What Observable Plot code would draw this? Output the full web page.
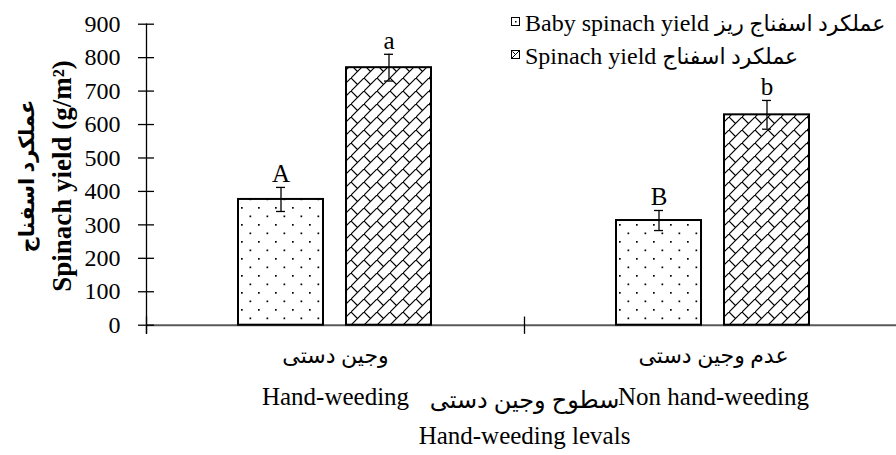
<!DOCTYPE html>
<html><head><meta charset="utf-8">
<script src="https://cdn.jsdelivr.net/npm/d3@7"></script>
<script src="https://cdn.jsdelivr.net/npm/@observablehq/plot@0.6"></script>
<style>
body{margin:0;background:#fff;}
#wrap{position:relative;width:896px;height:455px;overflow:hidden;background:#fff;font-family:"Liberation Serif","Times New Roman","DejaVu Sans",serif;color:#000;}
.leg{position:absolute;font-size:24px;line-height:30px;white-space:nowrap;}
.leg span{font-size:22px;}
.sw{position:absolute;}
.ytitle{position:absolute;white-space:nowrap;font-weight:bold;line-height:30px;transform:translate(-50%,-50%) rotate(-90deg);}
</style></head><body><div id="wrap"></div>
<script>
// ---- data ----
const groups = ["Hand-weeding", "Non hand-weeding"];
const groupsFa = ["وجین دستی", "عدم وجین دستی"];
const series = ["Baby spinach yield", "Spinach yield"];
const seriesFa = ["عملکرد اسفناج ریز", "عملکرد اسفناج"];
const babyYield = [376, 313];
const spinachYield = [770, 629];
const babyErr = [36, 30];
const spinachErr = [40, 43];
const babyLetters = ["A", "B"];
const spinachLetters = ["a", "b"];
const yTicks = [0, 100, 200, 300, 400, 500, 600, 700, 800, 900];
const yTitleEn = "Spinach yield (g/m²)";
const yTitleFa = "عملکرد اسفناج";
const xTitleEn = "Hand-weeding levals";
const xTitleFa = "سطوح وجین دستی";

const data = groups.flatMap((g, i) => [
  {group: g, series: series[0], value: babyYield[i], err: babyErr[i], letter: babyLetters[i]},
  {group: g, series: series[1], value: spinachYield[i], err: spinachErr[i], letter: spinachLetters[i]}
]);
const catLabels = groups.map((g, i) => ({group: g, en: g, fa: groupsFa[i]}));

const font = '"Liberation Serif","Times New Roman","DejaVu Sans",serif';

const chart = Plot.plot({
  width: 896, height: 455,
  marginLeft: 146, marginRight: -6, marginTop: 23.7, marginBottom: 130.3,
  style: {fontFamily: font, fontSize: "24px", color: "black", background: "transparent", overflow: "visible"},
  fx: {domain: groups, padding: 0, axis: null},
  x: {domain: series, paddingInner: 0.21, paddingOuter: 0.852, axis: null},
  y: {domain: [0, 900], axis: null},
  marks: [
    Plot.ruleY([0], {stroke: "#595959", strokeWidth: 2}),
    Plot.barY(data.filter(d => d.series === series[0]), {fx: "group", x: "series", y: "value", fill: "url(#dotPat)", stroke: "black", strokeWidth: 2}),
    Plot.barY(data.filter(d => d.series === series[1]), {fx: "group", x: "series", y: "value", fill: "url(#brickPat)", stroke: "black", strokeWidth: 2}),
    Plot.ruleX(data, {fx: "group", x: "series", y1: d => d.value - d.err, y2: d => d.value + d.err, stroke: "black", strokeWidth: 1.3}),
    Plot.tickY(data, {fx: "group", x: "series", y: d => d.value + d.err, insetLeft: 38, insetRight: 38, stroke: "black", strokeWidth: 1.3}),
    Plot.tickY(data, {fx: "group", x: "series", y: d => d.value - d.err, insetLeft: 38, insetRight: 38, stroke: "black", strokeWidth: 1.3}),
    Plot.text(data, {fx: "group", x: "series", y: d => d.value + d.err, text: "letter", dy: -13, fontSize: 25}),
    Plot.frame({anchor: "left", facetAnchor: "left", insetBottom: -8, stroke: "black", strokeWidth: 1.3}),
    Plot.frame({anchor: "left", insetTop: 293, insetBottom: -8, stroke: "black", strokeWidth: 1.3}),
    Plot.axisY({ticks: yTicks, tickSize: 16, dx: 8, tickPadding: 18, fontSize: 24, label: null, strokeWidth: 1.3}),
    Plot.text(catLabels, {fx: "group", text: "fa", frameAnchor: "bottom", dy: 38, fontSize: 22}),
    Plot.text(catLabels, {fx: "group", text: "en", frameAnchor: "bottom", dy: 80, fontSize: 25}),
    Plot.text([xTitleFa], {facet: "super", frameAnchor: "bottom", dy: 83, fontSize: 24}),
    Plot.text([xTitleEn], {facet: "super", frameAnchor: "bottom", dy: 119, fontSize: 25})
  ]
});

d3.select(chart).insert("defs", ":first-child").html(`
<pattern id="dotPat" patternUnits="userSpaceOnUse" width="17" height="17">
  <rect width="17" height="17" fill="white"/>
  <rect x="3" y="3" width="1.7" height="1.7" fill="black"/>
  <rect x="11.5" y="11.5" width="1.7" height="1.7" fill="black"/>
</pattern>
<pattern id="brickPat" patternUnits="userSpaceOnUse" width="13" height="13">
  <rect width="13" height="13" fill="white"/>
  <path d="M-1,14L14,-1M0,0L6.5,6.5" stroke="black" stroke-width="1.2" fill="none"/>
</pattern>`);

const wrap = document.getElementById("wrap");
wrap.appendChild(chart);

// y titles
[[yTitleEn, 62, 27], [yTitleFa, 27, 21]].forEach(([t, x, fs]) => {
  const div = document.createElement("div");
  div.className = "ytitle";
  div.style.left = x + "px";
  div.style.top = "176px";
  div.style.fontSize = fs + "px";
  div.textContent = t;
  wrap.appendChild(div);
});

// legend
const legTops = [8, 41];
series.forEach((s, i) => {
  const div = document.createElement("div");
  div.className = "leg";
  div.style.left = "525px";
  div.style.top = legTops[i] + "px";
  div.textContent = s + " ";
  const fa = document.createElement("span");
  fa.textContent = seriesFa[i];
  div.appendChild(fa);
  wrap.appendChild(div);
  const sw = document.createElementNS("http://www.w3.org/2000/svg", "svg");
  sw.setAttribute("class", "sw");
  sw.setAttribute("width", 10); sw.setAttribute("height", 10);
  sw.style.left = "511px"; sw.style.top = (legTops[i] + 9) + "px";
  sw.innerHTML = i === 0
    ? '<rect x="0.5" y="0.5" width="8" height="8" fill="white" stroke="black"/><rect x="4" y="4" width="1.5" height="1.5" fill="black"/>'
    : '<rect x="0.5" y="0.5" width="8" height="8" fill="white" stroke="black"/><path d="M1,8L8,1M1.5,1.5L4.5,4.5" stroke="black" stroke-width="1"/>';
  wrap.appendChild(sw);
});
</script></body></html>
